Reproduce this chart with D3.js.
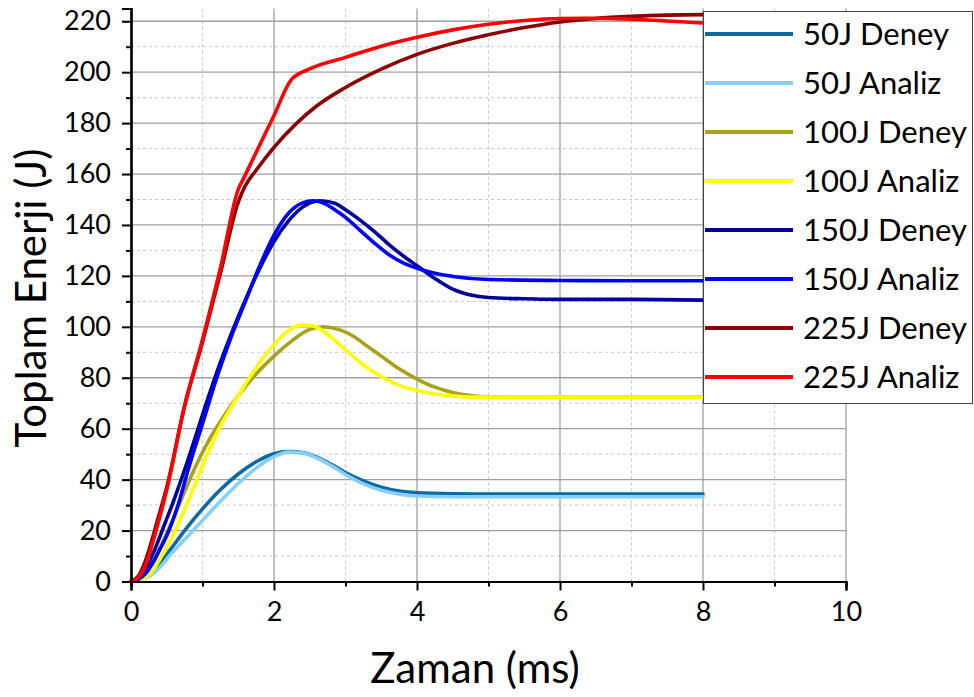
<!DOCTYPE html>
<html>
<head>
<meta charset="utf-8">
<script src="https://cdn.jsdelivr.net/npm/d3@7"></script>
<style>
  html, body { margin: 0; padding: 0; background: #fff; }
  svg { display: block; font-family: Lato, "Open Sans", sans-serif; }
</style>
</head>
<body>
<svg id="chart" width="974" height="697"></svg>
<script>
// ---- data ----
const seriesNames = ["50J Deney", "50J Analiz", "100J Deney", "100J Analiz", "150J Deney", "150J Analiz", "225J Deney", "225J Analiz"];
const seriesColors = ["#0a6aa6", "#87cefa", "#a9a21c", "#ffff00", "#00009a", "#0000ff", "#8b0000", "#ff0000"];

const d50Deney = [[0,0],[0.1,0.6],[0.25,2.8],[0.4,7],[0.55,12.5],[0.75,20],[1,28.5],[1.25,36],[1.5,42.2],[1.75,47],[2,50.2],[2.2,51],[2.4,50.6],[2.6,48.8],[2.8,46],[3,42.8],[3.25,39.5],[3.5,37],[3.75,35.5],[4,34.8],[4.5,34.4],[5,34.3],[6,34.3],[7,34.3],[8,34.3]];
const d50Analiz = [[0,0],[0.1,0.4],[0.25,2],[0.4,5.5],[0.55,10.5],[0.75,16.5],[1,24],[1.25,31.5],[1.5,38.5],[1.75,44.5],[2,49],[2.2,50.8],[2.4,50.5],[2.6,48.5],[2.8,45.5],[3,42],[3.25,38.3],[3.5,35.8],[3.75,34.3],[4,33.6],[4.5,33.3],[5,33.3],[6,33.3],[7,33.3],[8,33.3]];
const d100Deney = [[0,0],[0.1,1],[0.2,3.5],[0.35,10],[0.5,19],[0.7,32],[0.9,45],[1.1,56],[1.3,65],[1.5,73],[1.75,81.5],[2,88.5],[2.25,94.5],[2.5,99],[2.7,100],[2.9,99],[3.1,96.5],[3.3,92.5],[3.5,88.5],[3.75,83.5],[4,79.5],[4.25,76.3],[4.5,74.2],[4.75,73],[5,72.5],[6,72.4],[7,72.4],[8,72.4]];
const d100Analiz = [[0,0],[0.1,0.4],[0.25,2.5],[0.45,11],[0.65,22],[0.85,35],[1.05,49],[1.25,61],[1.5,73],[1.75,84],[2,93],[2.2,98.5],[2.4,100.7],[2.55,100.3],[2.75,97],[3,91],[3.25,85],[3.5,80.5],[3.75,77],[4,75],[4.25,73.6],[4.5,72.8],[4.8,72.4],[5,72.4],[6,72.4],[7,72.4],[8,72.4]];
const d150Deney = [[0,0],[0.1,1.5],[0.2,5],[0.33,12.4],[0.45,21],[0.6,32],[0.8,48],[1.03,68],[1.25,86],[1.5,104],[1.75,120],[2,133.5],[2.2,141.5],[2.4,147],[2.64,149.5],[2.85,148.5],[3,146],[3.2,142],[3.4,137.5],[3.6,132.5],[3.8,128],[4,124],[4.25,119],[4.5,114.8],[4.75,112.5],[5,111.5],[5.5,111],[6,110.8],[7,110.8],[8,110.5]];
const d150Analiz = [[0,0],[0.1,0.8],[0.2,3],[0.3,7],[0.4,12.4],[0.5,18],[0.68,32],[0.8,44],[1,62],[1.2,80],[1.4,96],[1.6,110],[1.8,124],[2,136],[2.2,144.5],[2.4,148.7],[2.55,149.5],[2.7,148.5],[2.85,146],[3,143],[3.2,138],[3.4,133],[3.6,128.5],[3.8,125.2],[4,123],[4.25,121],[4.5,119.8],[5,118.6],[6,118.2],[7,118.1],[8,118.1]];
const d225Deney = [[0,0],[0.1,2],[0.2,8],[0.3,17],[0.4,27],[0.5,37],[0.75,69],[1,94],[1.25,121],[1.5,149],[1.6,155.5],[1.75,161.5],[2,170.5],[2.3,179.5],[2.6,186.8],[3,194],[3.5,201.2],[4,207],[4.5,211.3],[5,214.7],[5.5,217.5],[6,219.7],[6.5,221.1],[7,221.9],[7.5,222.4],[8,222.6]];
const d225Analiz = [[0,0],[0.1,1.5],[0.2,6],[0.3,15],[0.4,25],[0.5,36],[0.75,69],[1,95],[1.25,123],[1.5,154],[1.57,158],[1.75,168.5],[2,183],[2.24,197],[2.5,201.3],[3,205.8],[3.5,210.2],[4,213.7],[4.5,216.6],[5,218.8],[5.5,220.3],[6,221.1],[6.5,221.2],[7,220.8],[7.5,220.1],[8,219.3]];
const seriesData = [d50Deney, d50Analiz, d100Deney, d100Analiz, d150Deney, d150Analiz, d225Deney, d225Analiz];

const xTicks = [0, 2, 4, 6, 8, 10];
const xMinor = [1, 3, 5, 7, 9];
const yTicks = [0, 20, 40, 60, 80, 100, 120, 140, 160, 180, 200, 220];
const yMinor = [10, 30, 50, 70, 90, 110, 130, 150, 170, 190, 210];
const xTitle = "Zaman (ms)";
const yTitle = "Toplam Enerji (J)";

// ---- layout ----
const svg = d3.select("#chart");
const x = d3.scaleLinear().domain([0, 10]).range([131, 846]);
const y = d3.scaleLinear().domain([0, 225]).range([581.5, 8.5]);

const grid = svg.append("g");
grid.selectAll("line.vmin").data(xMinor).enter().append("line")
  .attr("x1", d => x(d)).attr("x2", d => x(d)).attr("y1", y(0)).attr("y2", y(225))
  .attr("stroke", "#c8c8c8").attr("stroke-width", 1).attr("stroke-dasharray", "3,3");
grid.selectAll("line.hmin").data(yMinor).enter().append("line")
  .attr("x1", x(0)).attr("x2", x(10)).attr("y1", d => y(d)).attr("y2", d => y(d))
  .attr("stroke", "#c8c8c8").attr("stroke-width", 1).attr("stroke-dasharray", "3,3");
grid.selectAll("line.vmaj").data(xTicks.filter(d => d > 0)).enter().append("line")
  .attr("x1", d => x(d)).attr("x2", d => x(d)).attr("y1", y(0)).attr("y2", y(225))
  .attr("stroke", "#a0a0a0").attr("stroke-width", 1.3);
grid.selectAll("line.hmaj").data(yTicks.filter(d => d > 0)).enter().append("line")
  .attr("x1", x(0)).attr("x2", x(10)).attr("y1", d => y(d)).attr("y2", d => y(d))
  .attr("stroke", "#a0a0a0").attr("stroke-width", 1.3);

const xAxis = d3.axisBottom(x).tickValues(xTicks).tickSize(9).tickPadding(11).tickFormat(d3.format("d"));
const xAxisMinor = d3.axisBottom(x).tickValues(xMinor).tickSize(5).tickFormat("");
const yAxis = d3.axisLeft(y).tickValues(yTicks).tickSize(9).tickPadding(11).tickFormat(d3.format("d"));
const yAxisMinor = d3.axisLeft(y).tickValues(yMinor).tickSize(5).tickFormat("");

function styleAxis(g) {
  g.select(".domain").attr("stroke", "#000").attr("stroke-width", 2.2);
  g.selectAll(".tick line").attr("stroke", "#000").attr("stroke-width", 2);
  g.selectAll(".tick text").attr("fill", "#000").style("font-size", "27px").style("font-family", "Lato, 'Open Sans', sans-serif");
}

const lineGen = d3.line().x(d => x(d[0])).y(d => y(d[1])).curve(d3.curveMonotoneX);
const curves = svg.append("g");
seriesData.forEach((data, i) => {
  curves.append("path").datum(data)
    .attr("d", lineGen)
    .attr("fill", "none")
    .attr("stroke", seriesColors[i])
    .attr("stroke-width", 3.6)
    .attr("stroke-linejoin", "round")
    .attr("stroke-linecap", "round");
});

svg.append("g").attr("transform", `translate(0,${y(0)})`).call(xAxisMinor).call(styleAxis);
svg.append("g").attr("transform", `translate(0,${y(0)})`).call(xAxis).call(styleAxis);
svg.append("g").attr("transform", `translate(${x(0)},0)`).call(yAxisMinor).call(styleAxis);
svg.append("g").attr("transform", `translate(${x(0)},0)`).call(yAxis).call(styleAxis);

svg.append("text").attr("x", 475).attr("y", 683)
  .attr("text-anchor", "middle").style("font-size", "42px").attr("fill", "#000").text(xTitle);
svg.append("text").attr("transform", "translate(46,298) rotate(-90)")
  .attr("text-anchor", "middle").style("font-size", "42px").attr("fill", "#000").text(yTitle);

const lg = svg.append("g");
lg.append("rect").attr("x", 703.5).attr("y", 11.5).attr("width", 269).attr("height", 392)
  .attr("fill", "#fff").attr("stroke", "#444").attr("stroke-width", 1);
seriesNames.forEach((name, i) => {
  const cy = 34 + i * 49;
  lg.append("line").attr("x1", 705).attr("x2", 793).attr("y1", cy).attr("y2", cy)
    .attr("stroke", seriesColors[i]).attr("stroke-width", 4);
  lg.append("text").attr("x", 803).attr("y", cy).attr("dy", "0.36em")
    .style("font-size", "31px").attr("fill", "#000").text(name);
});
</script>
</body>
</html>
